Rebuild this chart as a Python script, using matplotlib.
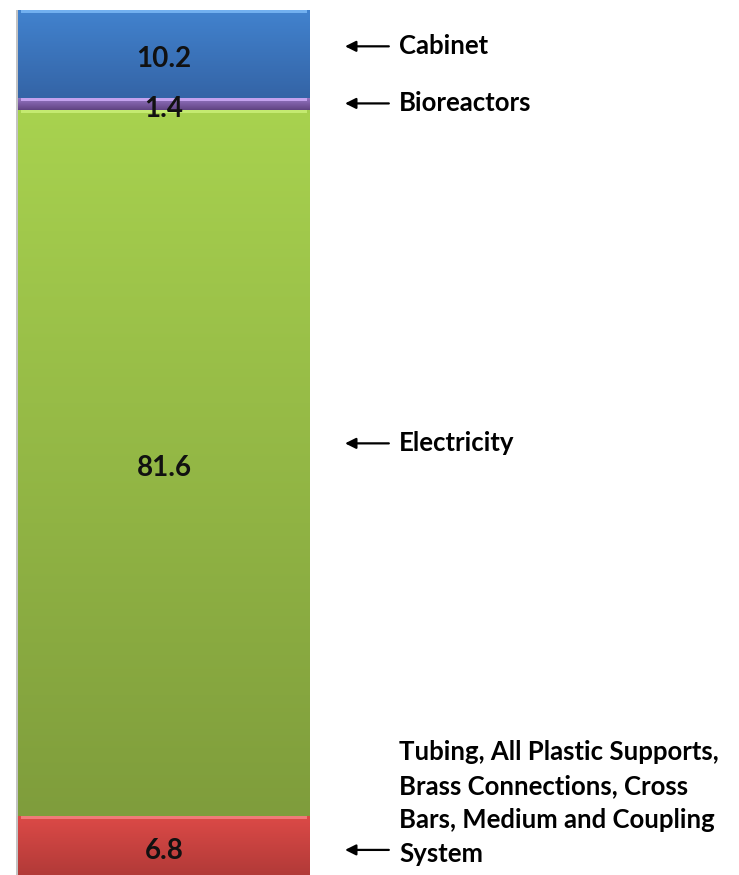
import numpy as np
import matplotlib.pyplot as plt
from matplotlib.colors import LinearSegmentedColormap

# share of total (%) per component, bottom to top
components = ['Tubing, All Plastic Supports,\nBrass Connections, Cross\nBars, Medium and Coupling\nSystem',
              'Electricity', 'Bioreactors', 'Cabinet']
shares = [6.8, 81.6, 1.4, 10.2]
value_labels = ['6.8', '81.6', '1.4', '10.2']

# (top colour, bottom colour, highlight) for each segment
shades = [('#dc4a47', '#b23a38', '#f07a78'),
          ('#a8d24f', '#7f9d3c', '#c4ea70'),
          ('#9a78c8', '#604482', '#c4a2ee'),
          ('#4283cf', '#3464a6', '#72b0f0')]

fig = plt.figure(figsize=(7.39, 8.75), dpi=100)
ax = fig.add_axes([0, 0, 1, 865 / 875])
ax.set_xlim(-0.5 - 18 / 292, 0.5 + 429 / 292)
ax.set_ylim(0, 100)
ax.axis('off')

bottoms = np.concatenate([[0], np.cumsum(shares)[:-1]])
grad = np.linspace(1, 0, 256).reshape(-1, 1)
for val, bot, (c_top, c_bot, c_hi) in zip(shares, bottoms, shades):
    cmap = LinearSegmentedColormap.from_list('seg', [c_bot, c_top])
    ax.imshow(grad, cmap=cmap, extent=[-0.5, 0.5, bot, bot + val],
              aspect='auto', origin='upper', interpolation='bilinear', zorder=1)
    # light bevel along the top edge
    hi = min(0.35, val * 0.25)
    ax.fill_between([-0.49, 0.49], bot + val - hi, bot + val, color=c_hi,
                    lw=0, zorder=2)
    # darker rim at the bottom edge
    ax.fill_between([-0.5, 0.5], bot, bot + min(0.2, val * 0.15), color=c_bot,
                    alpha=0.8, lw=0, zorder=2)

# faint frame line on the left side
ax.plot([-0.503, -0.503], [0, 100], color='#b8b8b8', lw=1.2, zorder=3)

for val, bot, txt in zip(shares, bottoms, value_labels):
    ax.text(0, bot + val / 2 - 0.6, txt, ha='center', va='center',
            fontsize=20, family='Lato', weight='bold', color='#111111', zorder=5)

# component names with arrows pointing back at the bar
label_y = [bottoms[0] + shares[0] / 2 - 0.5,
           bottoms[1] + shares[1] / 2 + 2.3,
           bottoms[2] + shares[2] / 2 + 0.1,
           bottoms[3] + shares[3] / 2 + 0.9]
x_arrow_start, x_arrow_end, x_text = 0.77, 0.62, 0.805
for name, ly in zip(components, label_y):
    ax.annotate('', xy=(x_arrow_end, ly), xytext=(x_arrow_start, ly),
                arrowprops=dict(arrowstyle='-|>', color='black', lw=1.6,
                                mutation_scale=16, shrinkA=0, shrinkB=0))
    if '\n' in name:
        ax.text(x_text, ly - 1.9, name, ha='left', va='bottom', fontsize=18.5,
                family='Lato', weight='bold', linespacing=1.5)
    else:
        ax.text(x_text, ly, name, ha='left', va='center', fontsize=18.5,
                family='Lato', weight='bold')

fig.savefig('out.png', dpi=100)
